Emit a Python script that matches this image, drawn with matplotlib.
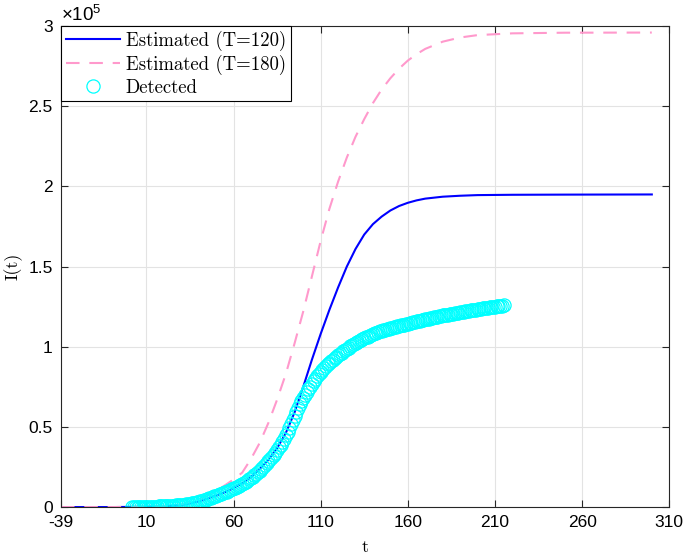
import numpy as np
import matplotlib
matplotlib.use("Agg")
import matplotlib.pyplot as plt

# model curves (values in units of 1e5)
t_est = [-39, -30, -20, -10, 0, 10, 20, 30, 40, 45, 50, 55, 60, 65, 70, 75, 80, 85,
         90, 95, 100, 105, 110, 115, 120, 125, 130, 135, 140, 145, 150, 155, 160,
         165, 170, 180, 190, 200, 220, 250, 300]
est_120 = [0, 0, 0, 0, 0.001, 0.002, 0.005, 0.012, 0.035, 0.052, 0.072, 0.093, 0.118,
           0.148, 0.188, 0.238, 0.295, 0.368, 0.462, 0.590, 0.750, 0.920, 1.080, 1.230,
           1.370, 1.500, 1.610, 1.700, 1.765, 1.812, 1.850, 1.878, 1.898, 1.913, 1.924,
           1.936, 1.942, 1.946, 1.948, 1.949, 1.950]
est_180 = [0, 0, 0, 0, 0.001, 0.003, 0.007, 0.017, 0.045, 0.070, 0.100, 0.135, 0.172,
           0.215, 0.300, 0.400, 0.525, 0.670, 0.830, 1.020, 1.220, 1.440, 1.660, 1.860,
           2.030, 2.180, 2.310, 2.420, 2.520, 2.605, 2.675, 2.735, 2.785, 2.825, 2.858,
           2.903, 2.929, 2.944, 2.955, 2.959, 2.960]

# detected cases, one per day from t=2 to t=215
t_det = list(range(2, 216))
detected = [
    0.000, 0.000, 0.001, 0.001, 0.001, 0.001, 0.001, 0.001, 0.002,                 # 2-10
    0.002, 0.002, 0.003, 0.003, 0.003, 0.003, 0.004, 0.004, 0.005, 0.005,          # 11-20
    0.006, 0.006, 0.007, 0.008, 0.008, 0.009, 0.010, 0.011, 0.012, 0.013,          # 21-30
    0.015, 0.016, 0.018, 0.019, 0.021, 0.023, 0.025, 0.028, 0.030, 0.033,          # 31-40
    0.036, 0.039, 0.042, 0.046, 0.050, 0.054, 0.058, 0.062, 0.066, 0.070,          # 41-50
    0.074, 0.079, 0.083, 0.088, 0.092, 0.097, 0.102, 0.106, 0.111, 0.116,          # 51-60
    0.122, 0.127, 0.133, 0.139, 0.145, 0.151, 0.158, 0.165, 0.173, 0.181,          # 61-70
    0.190, 0.199, 0.208, 0.218, 0.228, 0.239, 0.250, 0.261, 0.273, 0.285,          # 71-80
    0.298, 0.311, 0.325, 0.340, 0.356, 0.372, 0.389, 0.407, 0.425, 0.448,          # 81-90
    0.471, 0.495, 0.518, 0.542, 0.565, 0.590, 0.615, 0.640, 0.660, 0.680,          # 91-100
    0.700, 0.717, 0.734, 0.750, 0.767, 0.784, 0.800, 0.815, 0.830, 0.845,          # 101-110
    0.857, 0.869, 0.880, 0.890, 0.900, 0.910, 0.919, 0.928, 0.938, 0.946,          # 111-120
    0.955, 0.963, 0.971, 0.980, 0.988, 0.995, 1.003, 1.010, 1.017, 1.024,          # 121-130
    1.030, 1.036, 1.042, 1.048, 1.053, 1.058, 1.062, 1.067, 1.073, 1.078,          # 131-140
    1.083, 1.088, 1.092, 1.096, 1.100, 1.104, 1.107, 1.110, 1.113, 1.116,          # 141-150
    1.119, 1.122, 1.125, 1.127, 1.130, 1.133, 1.135, 1.138, 1.141, 1.143,          # 151-160
    1.146, 1.149, 1.152, 1.155, 1.158, 1.160, 1.163, 1.166, 1.168, 1.171,          # 161-170
    1.173, 1.176, 1.178, 1.181, 1.183, 1.186, 1.188, 1.191, 1.193, 1.195,          # 171-180
    1.197, 1.199, 1.201, 1.203, 1.205, 1.207, 1.209, 1.211, 1.213, 1.215,          # 181-190
    1.217, 1.219, 1.221, 1.223, 1.225, 1.227, 1.229, 1.230, 1.232, 1.234,          # 191-200
    1.236, 1.237, 1.239, 1.241, 1.242, 1.244, 1.246, 1.247, 1.249, 1.251,          # 201-210
    1.252, 1.254, 1.256, 1.257, 1.259,                                             # 211-215
]

xticks = [-39, 10, 60, 110, 160, 210, 260, 310]
yticks = [0, 0.5, 1, 1.5, 2, 2.5, 3]
ytick_labels = ["0", "0.5", "1", "1.5", "2", "2.5", "3"]

plt.rcParams['font.family'] = ['Liberation Sans', 'DejaVu Sans']
plt.rcParams['mathtext.fontset'] = 'custom'
plt.rcParams['mathtext.rm'] = 'Liberation Sans'

fig = plt.figure(figsize=(6.85, 5.56), dpi=100)
ax = fig.add_axes([0.089, 0.088, 0.888, 0.865])

ax.plot(t_est, est_120, color='#0000ff', lw=1.5, label='Estimated (T=120)')
ax.plot(t_est, est_180, color='#ff99cc', lw=1.5, dashes=(6.5, 4.7),
        label='Estimated (T=180)')
ax.plot(t_det, detected, 'o', mfc='none', mec='#00ffff', ms=9.5, mew=0.9,
        label='Detected')

ax.set_xlim(-39, 310)
ax.set_ylim(0, 3)
ax.set_xticks(xticks)
ax.set_xticklabels([str(v) for v in xticks])
ax.set_yticks(yticks)
ax.set_yticklabels(ytick_labels)
ax.tick_params(direction='in', length=5, width=0.8, labelsize=12.5, colors='#262626',
               top=True, right=True, labelcolor='black')
ax.tick_params(axis='x', pad=6)
ax.tick_params(axis='y', pad=6)
for s in ax.spines.values():
    s.set_color('#262626')
    s.set_linewidth(0.8)
ax.grid(True, color='#e3e3e3', lw=0.8)
ax.set_axisbelow(True)

ax.text(0.0, 1.002, r'$\times\mathregular{10^5}$', transform=ax.transAxes,
        fontsize=13.5, ha='left', va='bottom')

serif = ['cmr10', 'DejaVu Serif']
ax.set_xlabel('t', fontsize=13, family=serif, labelpad=7)
ax.set_ylabel('I(t)', fontsize=13, family=serif, labelpad=4)

leg = ax.legend(loc='upper left', bbox_to_anchor=(0, 1), borderaxespad=0,
                fancybox=False, framealpha=1, edgecolor='black',
                prop={'family': serif, 'size': 13.5},
                handlelength=2.9, labelspacing=0.2, handletextpad=0.3,
                borderpad=0.25, numpoints=1)
leg.get_frame().set_linewidth(0.8)

fig.savefig('out.png', dpi=100)
